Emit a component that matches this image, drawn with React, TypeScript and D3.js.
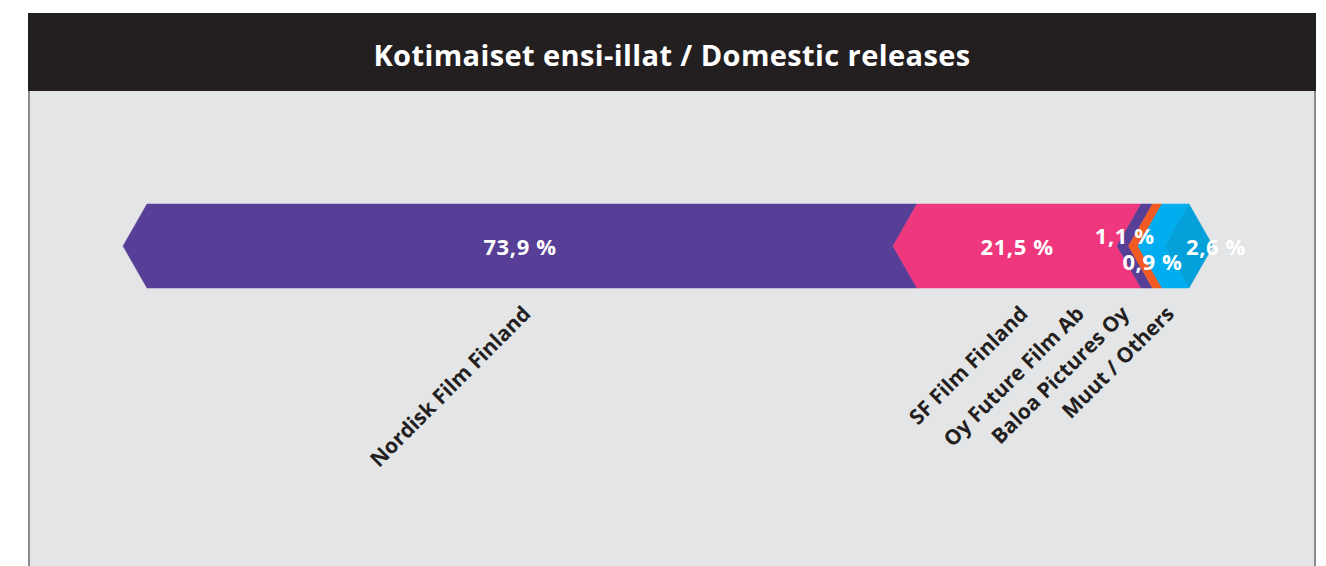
import * as React from 'react';
import * as d3 from 'd3';

const title = 'Kotimaiset ensi-illat / Domestic releases';
const distributors = ['Nordisk Film Finland', 'SF Film Finland', 'Oy Future Film Ab', 'Baloa Pictures Oy', 'Muut / Others'];
const shares = [73.9, 21.5, 1.1, 0.9, 2.6];
const colors = ['#573e97', '#ee377d', '#573e97', '#f15a22', '#00aeef'];
const tipColor = '#03a0da';

const W = 1326;
const H = 566;
const panelLeft = 28;
const panelRight = 1316;
const headerTop = 13;
const headerBottom = 91;
const barTop = 204;
const barBottom = 288;
const notch = 24;
const labelGap = 45;
const fontFamily = '"Open Sans", "Noto Sans", "DejaVu Sans", sans-serif';

const fmt = (v: number) => d3.format('.1f')(v).replace('.', ',') + ' %';

const App: React.FunctionComponent = () => {
    const x = d3.scaleLinear().domain([0, d3.sum(shares)]).range([123, 1165]);
    const mid = (barTop + barBottom) / 2;
    const cum = d3.cumsum(shares);
    const segs = shares.map((v, i) => {
        const x0 = x(cum[i] - v);
        const x1 = x(cum[i]);
        return { v, i, x0, x1, name: distributors[i], color: colors[i] };
    });

    const poly = (x0: number, x1: number) => {
        const pts: [number, number][] = [
            [x0 + notch, barTop], [x1 + notch, barTop], [x1, mid],
            [x1 + notch, barBottom], [x0 + notch, barBottom], [x0, mid],
        ];
        return d3.line()(pts) + 'Z';
    };
    const last = segs[segs.length - 1];
    const tip = d3.line()([
        [last.x1, mid], [last.x1 + notch, barTop], [last.x1 + 2 * notch, mid], [last.x1 + notch, barBottom],
    ]) + 'Z';

    // category label anchors: wanted at segment middle, pushed left so they don't collide
    const anchors = segs.map(s => (s.x0 + s.x1) / 2 + notch);
    for (let i = anchors.length - 2; i >= 0; i--) {
        anchors[i] = Math.min(anchors[i], anchors[i + 1] - labelGap);
    }

    // value labels: small slices alternate above / below, the last sits on the tip
    let smallIx = 0;
    const valueLabels = segs.map((s, i) => {
        const cx = (s.x0 + s.x1) / 2;
        if (i === segs.length - 1 && s.v < 5) {
            return { x: s.x1 + notch - 3, y: mid, anchor: 'start' };
        }
        if (s.v < 5) {
            const up = smallIx++ % 2 === 0;
            return up ? { x: cx + 2, y: mid - 11, anchor: 'middle' } : { x: cx + notch * 0.8, y: mid + 15, anchor: 'middle' };
        }
        return { x: cx + notch / 2, y: mid, anchor: 'middle' };
    });

    return (
        <svg width={W} height={H} style={{ position: 'absolute', left: 0, top: 0 }} fontFamily={fontFamily}>
            <rect x={0} y={0} width={W} height={H} fill="#ffffff" />
            <rect x={panelLeft} y={headerBottom} width={panelRight - panelLeft} height={H - headerBottom} fill="#e4e5e7" />
            <line x1={panelLeft + 1} x2={panelLeft + 1} y1={headerBottom} y2={H} stroke="#8b8b8b" strokeWidth={2} />
            <line x1={panelRight - 1} x2={panelRight - 1} y1={headerBottom} y2={H} stroke="#8b8b8b" strokeWidth={2} />
            <rect x={panelLeft} y={headerTop} width={panelRight - panelLeft} height={headerBottom - headerTop} fill="#231f20" />
            <text x={(panelLeft + panelRight) / 2} y={(headerTop + headerBottom) / 2 + 2} textAnchor="middle"
                dominantBaseline="central" fill="#ffffff" fontSize={29} fontWeight={700} letterSpacing={0.4}>{title}</text>

            {segs.map(s => (
                <path key={'s' + s.i} d={poly(s.x0, s.x1)} fill={s.color} stroke={s.color} strokeWidth={0.5} />
            ))}
            <path d={tip} fill={tipColor} stroke={tipColor} strokeWidth={0.5} />

            {segs.map((s, i) => (
                <text key={'v' + i} x={valueLabels[i].x} y={valueLabels[i].y} textAnchor={valueLabels[i].anchor}
                    dominantBaseline="central" fill="#ffffff" fontSize={22} fontWeight={700} letterSpacing={0.6}>{fmt(s.v)}</text>
            ))}

            {segs.map((s, i) => (
                <text key={'c' + i} transform={`translate(${anchors[i]},${barBottom + 27}) rotate(-45)`}
                    textAnchor="end" fill="#231f20" fontSize={21} fontWeight={700}>{s.name}</text>
            ))}
        </svg>
    );
};

export default App;
